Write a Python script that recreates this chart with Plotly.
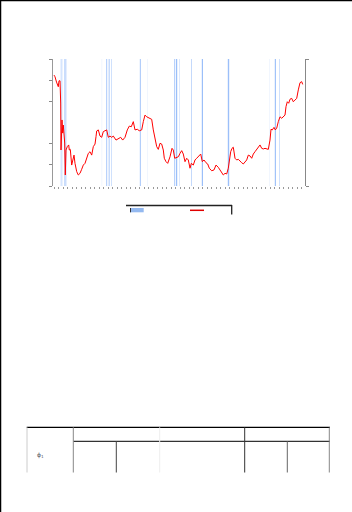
import plotly.graph_objects as go

# ---------------- data ----------------
years = [1990.083, 1990.167, 1990.292, 1990.442, 1990.5, 1990.583, 1990.642, 1990.667, 1990.75, 1990.808,
         1990.858, 1990.917, 1990.975, 1991.025, 1991.083, 1991.192, 1991.308, 1991.358, 1991.442, 1991.558,
         1991.642, 1991.75, 1991.833, 1991.975, 1992.108, 1992.25, 1992.392, 1992.525, 1992.667, 1992.808,
         1992.942, 1993.083, 1993.225, 1993.358, 1993.5, 1993.583, 1993.642, 1993.775, 1993.917, 1994.058,
         1994.192, 1994.333, 1994.475, 1994.608, 1994.75, 1994.892, 1995.025, 1995.25, 1995.442, 1995.642,
         1995.808, 1996.0, 1996.192, 1996.358, 1996.525, 1996.692, 1996.833, 1997.025, 1997.192, 1997.392,
         1997.525, 1997.667, 1997.808, 1998.025, 1998.225, 1998.358, 1998.5, 1998.642, 1998.775, 1998.917,
         1999.058, 1999.192, 1999.275, 1999.417, 1999.558, 1999.75, 1999.917, 2000.025, 2000.142, 2000.308,
         2000.442, 2000.583, 2000.725, 2000.858, 2001.0, 2001.142, 2001.275, 2001.417, 2001.525, 2001.692,
         2001.833, 2001.975, 2002.108, 2002.308, 2002.442, 2002.583, 2002.75, 2002.892, 2003.025, 2003.225,
         2003.417, 2003.583, 2003.775, 2003.917, 2004.058, 2004.192, 2004.333, 2004.475, 2004.608, 2004.692,
         2004.808, 2004.917, 2005.025, 2005.167, 2005.308, 2005.442, 2005.583, 2005.725, 2005.858, 2006.0,
         2006.142, 2006.275, 2006.417, 2006.558, 2006.692, 2006.833, 2006.975, 2007.108, 2007.25, 2007.392,
         2007.525, 2007.667, 2007.808, 2007.942, 2008.083, 2008.167, 2008.275, 2008.417, 2008.525, 2008.642,
         2008.775, 2008.917, 2009.058, 2009.192, 2009.333, 2009.417, 2009.525, 2009.642, 2009.75, 2009.892,
         2010.025, 2010.167, 2010.308, 2010.442, 2010.583, 2010.725, 2010.808]

values = [5.24, 5.16, 4.91, 4.69, 4.97, 4.97, 3.92, 1.70, 3.12, 2.50,
          2.88, 2.17, 2.03, 0.52, 1.70, 1.86, 1.94, 1.70, 1.73, 0.99,
          1.23, 1.46, 1.07, 0.68, 0.52, 0.60, 0.79, 0.99, 1.07, 1.31,
          1.54, 1.62, 1.46, 1.86, 1.98, 2.33, 2.60, 2.65, 2.36, 2.30,
          2.57, 2.61, 2.65, 2.30, 2.36, 2.30, 2.36, 2.17, 2.25, 2.30,
          2.17, 2.30, 2.65, 2.83, 2.80, 3.04, 2.65, 2.68, 2.61, 2.65,
          3.04, 3.35, 3.27, 3.20, 3.15, 2.65, 2.25, 1.86, 1.73, 2.02,
          1.98, 1.70, 1.31, 1.15, 1.07, 1.38, 1.78, 1.70, 1.31, 1.36,
          1.38, 1.54, 1.67, 1.51, 1.15, 1.31, 1.23, 0.84, 1.07, 0.99,
          1.23, 1.31, 1.38, 1.51, 1.15, 1.23, 1.10, 1.04, 0.84, 0.72,
          0.76, 0.99, 0.88, 0.76, 0.68, 0.52, 0.60, 0.57, 0.84, 1.23,
          1.62, 1.78, 1.83, 1.31, 1.23, 1.26, 1.15, 1.10, 1.04, 1.15,
          1.23, 1.46, 1.42, 1.31, 1.51, 1.62, 1.73, 1.81, 1.94, 1.78,
          1.75, 1.78, 1.75, 1.73, 2.17, 2.68, 2.65, 2.77, 2.65, 2.73,
          3.04, 3.27, 3.20, 3.27, 3.35, 3.75, 3.98, 3.91, 4.10, 4.14,
          3.98, 4.06, 4.14, 4.54, 4.88, 4.93, 4.80]

# event periods (start, end, intensity)
event_start = [1990.625, 1990.917, 1994.025, 1994.417, 1994.633, 1994.833, 1997.233, 1997.833,
               2000.083, 2000.25, 2000.5, 2001.5, 2002.4, 2004.567, 2008.0, 2008.483, 2008.833]
event_end = [1990.792, 1991.125, 1994.108, 1994.517, 1994.733, 1994.917, 1997.333, 1997.917,
             2000.183, 2000.35, 2000.583, 2001.583, 2002.5, 2004.683, 2008.083, 2008.583, 2008.917]
event_weight = [0.35, 0.45, 0.12, 0.6, 0.6, 0.4, 0.65, 0.12,
                0.6, 0.85, 0.3, 0.5, 0.85, 0.85, 0.12, 0.8, 0.4]

y_ticks = [0, 1, 2, 4, 5, 6]

# ---------------- layout helpers ----------------
W, H = 352, 512
L, R, T, B = 53, 305, 59, 186


def px(x):
    return (x - L) / (R - L)


def py(y):
    return (B - y) / (B - T)


fig = go.Figure()

fig.add_trace(go.Scatter(x=years, y=values, mode="lines",
                         line=dict(color="#ff0000", width=1.0),
                         showlegend=False, hoverinfo="skip"))
fig.add_trace(go.Scatter(x=[years[0]], y=[0], yaxis="y2", mode="markers",
                         marker=dict(opacity=0), showlegend=False, hoverinfo="skip"))

shapes = []
for s, e, w in zip(event_start, event_end, event_weight):
    shapes.append(dict(type="rect", xref="x", yref="paper", x0=s, x1=e, y0=0, y1=1,
                       fillcolor="rgb(138,180,248)", opacity=w, line=dict(width=0),
                       layer="below"))

# page frame
shapes.append(dict(type="line", xref="paper", yref="paper", x0=px(0.5), x1=px(0.5),
                   y0=py(0), y1=py(512), line=dict(color="black", width=1.5)))
shapes.append(dict(type="line", xref="paper", yref="paper", x0=px(0), x1=px(352),
                   y0=py(0.5), y1=py(0.5), line=dict(color="black", width=1.5)))

# legend box
shapes.append(dict(type="line", xref="paper", yref="paper", x0=px(126), x1=px(232),
                   y0=py(205.5), y1=py(205.5), line=dict(color="#222", width=1.3)))
shapes.append(dict(type="line", xref="paper", yref="paper", x0=px(231.7), x1=px(231.7),
                   y0=py(205), y1=py(214.5), line=dict(color="#222", width=1.3)))
shapes.append(dict(type="rect", xref="paper", yref="paper", x0=px(130), x1=px(143.7),
                   y0=py(208), y1=py(212.3), fillcolor="rgb(148,185,240)", line=dict(width=0)))
shapes.append(dict(type="line", xref="paper", yref="paper", x0=px(130.5), x1=px(130.5),
                   y0=py(208), y1=py(212.3), line=dict(color="#333", width=1)))
shapes.append(dict(type="line", xref="paper", yref="paper", x0=px(190), x1=px(204),
                   y0=py(210.3), y1=py(210.3), line=dict(color="#e00000", width=1.5)))

# table grid
def hline(y, x0, x1, c, w=1):
    shapes.append(dict(type="line", xref="paper", yref="paper", x0=px(x0), x1=px(x1),
                       y0=py(y), y1=py(y), line=dict(color=c, width=w)))


def vline(x, y0, y1, c, w=1):
    shapes.append(dict(type="line", xref="paper", yref="paper", x0=px(x), x1=px(x),
                       y0=py(y0), y1=py(y1), line=dict(color=c, width=w)))


hline(427.3, 26.7, 330, "#000", 1.3)
hline(441.3, 73.3, 330, "#333", 1.2)
vline(27, 427.3, 472.5, "#ccc")
vline(73.3, 427.3, 472.5, "#888")
vline(116.3, 441.3, 472.5, "#444")
vline(159.7, 427.3, 472.5, "#eee")
vline(244.7, 427.3, 472.5, "#333")
vline(287.3, 441.3, 472.5, "#666")
vline(329.3, 427.3, 472.5, "#888")

fig.update_layout(
    width=W, height=H,
    margin=dict(l=L, r=W - R, t=T, b=H - B),
    paper_bgcolor="white", plot_bgcolor="white",
    showlegend=False,
    shapes=shapes,
    xaxis=dict(range=[1990, 2011], showgrid=False, zeroline=False, showline=False,
               ticks="outside", ticklen=2, tickcolor="#999", tickwidth=1,
               dtick=0.375, tick0=1990.1, showticklabels=False),
    yaxis=dict(range=[0, 6], showgrid=False, zeroline=False, showline=True,
               linecolor="#999", linewidth=1, ticks="outside", ticklen=3,
               tickcolor="#888", tickvals=y_ticks, showticklabels=False),
    yaxis2=dict(range=[0, 6], overlaying="y", side="right", showgrid=False,
                zeroline=False, showline=True, linecolor="#888", linewidth=1,
                ticks="outside", ticklen=3, tickcolor="#888", tickvals=[0, 6],
                showticklabels=False),
    annotations=[dict(xref="paper", yref="paper", x=px(35), y=py(461), text="ϕ<sub>1</sub>",
                      showarrow=False, font=dict(size=6, color="#556", family="DejaVu Sans"))],
)

fig.write_html("out.html")
